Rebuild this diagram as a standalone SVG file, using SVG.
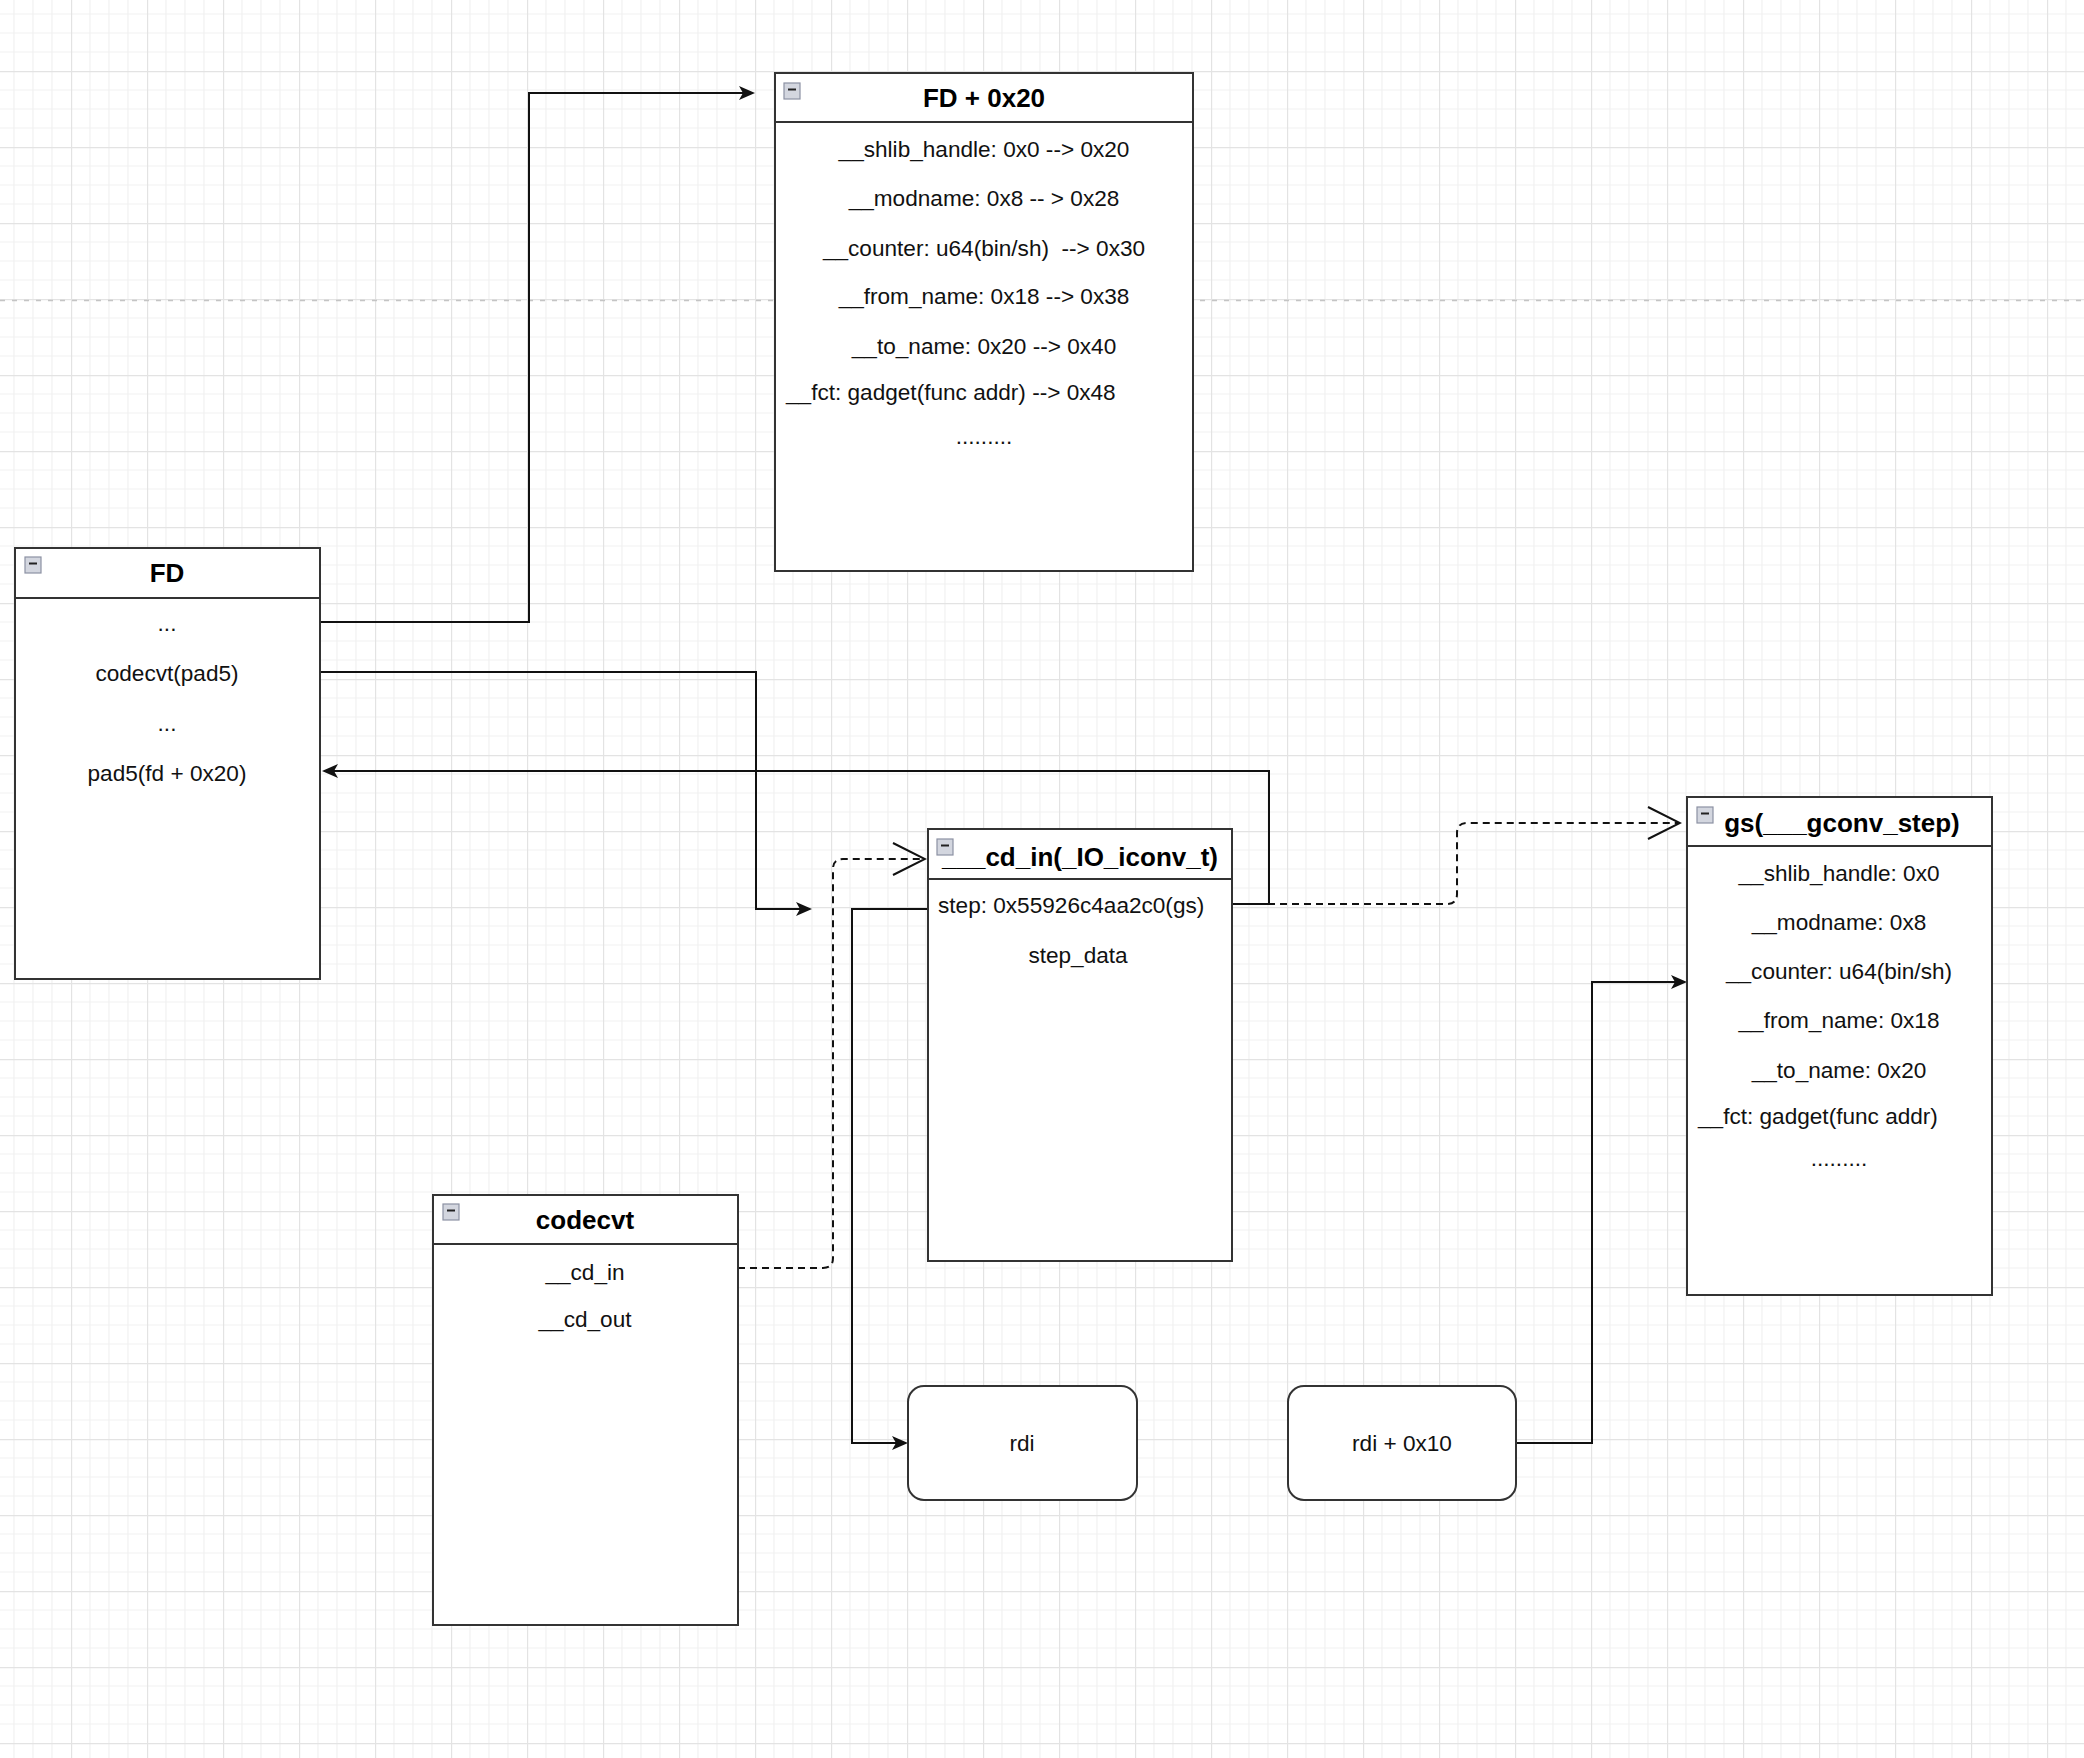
<svg xmlns="http://www.w3.org/2000/svg" xmlns:xlink="http://www.w3.org/1999/xlink" width="2084" height="1758" viewBox="0 0 2084 1758">
<style>
.box{fill:#ffffff;stroke:#333333;stroke-width:2}
.hdr{stroke:#333333;stroke-width:2}
.t{font-family:"Liberation Sans",Arial,Helvetica,sans-serif;font-size:22.6px;fill:#111111}
.c{text-anchor:middle}
.s{text-anchor:start}
.title{font-family:"Liberation Sans",Arial,Helvetica,sans-serif;font-size:26px;font-weight:bold;fill:#000000;text-anchor:middle}
.edge{fill:none;stroke:#111111;stroke-width:2}
.solid{marker-end:url(#arrowFill)}
.dash{stroke-dasharray:7 5;marker-end:url(#arrowOpen)}
</style>
<defs>
<pattern id="grid" x="71" y="71" width="76" height="76" patternUnits="userSpaceOnUse">
<path d="M19,0V76M38,0V76M57,0V76M0,19H76M0,38H76M0,57H76" fill="none" stroke="#f1f1f1" stroke-width="1.2"/>
<path d="M0.5,0V76M0,0.5H76" fill="none" stroke="#e3e3e3" stroke-width="1.4"/>
</pattern>
<marker id="arrowFill" markerUnits="userSpaceOnUse" viewBox="0 0 16 14" refX="12" refY="7" markerWidth="16" markerHeight="14" orient="auto">
<path d="M0,0 L16,7 L0,14 L4,7 Z" fill="#111111" stroke="none"/>
</marker>
<marker id="arrowOpen" markerUnits="userSpaceOnUse" viewBox="0 0 36 36" refX="34" refY="18" markerWidth="36" markerHeight="36" orient="auto">
<path d="M2,2 L34,18 L2,34" fill="none" stroke="#111111" stroke-width="2" stroke-dasharray="none"/>
</marker>
<g id="minus">
<rect x="0" y="0" width="16" height="16" fill="#d3d6df" stroke="#8c91a3" stroke-width="1.2"/>
<path d="M4,6.5H12" stroke="#222222" stroke-width="2"/>
</g>
</defs>

<rect x="0" y="0" width="2084" height="1758" fill="#ffffff"/>
<rect x="0" y="0" width="2084" height="1758" fill="url(#grid)"/>
<path d="M0,300.5H2084" stroke="#c4c4c4" stroke-width="1.5" stroke-dasharray="5 7" fill="none"/>

<g id="connectors">
<path class="edge solid" d="M319,622 H529 V93 H751"/>
<path class="edge solid" d="M319,672 H756 V909 H808"/>
<path class="edge solid" d="M1232,904 H1269 V771 H326"/>
<path class="edge dash" d="M1232,904 H1447 Q1457,904 1457,894 V833 Q1457,823 1467,823 H1680"/>
<path class="edge dash" d="M738,1268 H823 Q833,1268 833,1258 V869 Q833,859 843,859 H925"/>
<path class="edge solid" d="M928,909 H852 V1443 H904"/>
<path class="edge solid" d="M1516,1443 H1592 V982 H1683"/>
</g>

<g id="node-fd">
<rect class="box" x="15" y="548" width="305" height="431"/>
<path class="hdr" d="M15,598H320"/>
<use href="#minus" x="25" y="557"/>
<text class="title" x="167" y="582">FD</text>
<text class="t c" x="167" y="631">...</text>
<text class="t c" x="167" y="681">codecvt(pad5)</text>
<text class="t c" x="167" y="731">...</text>
<text class="t c" x="167" y="781">pad5(fd + 0x20)</text>
</g>

<g id="node-fd-0x20">
<rect class="box" x="775" y="73" width="418" height="498"/>
<path class="hdr" d="M775,122H1193"/>
<use href="#minus" x="784" y="83"/>
<text class="title" x="984" y="107">FD + 0x20</text>
<text class="t c" x="984" y="157">__shlib_handle: 0x0 --&gt; 0x20</text>
<text class="t c" x="984" y="206">__modname: 0x8 -- &gt; 0x28</text>
<text class="t c" x="984" y="256" xml:space="preserve">__counter: u64(bin/sh)  --&gt; 0x30</text>
<text class="t c" x="984" y="304">__from_name: 0x18 --&gt; 0x38</text>
<text class="t c" x="984" y="354">__to_name: 0x20 --&gt; 0x40</text>
<text class="t s" x="786" y="400">__fct: gadget(func addr) --&gt; 0x48</text>
<text class="t c" x="984" y="444">.........</text>
</g>

<g id="node-cd-in">
<rect class="box" x="928" y="829" width="304" height="432"/>
<path class="hdr" d="M928,879H1232"/>
<text class="title" x="1080" y="866">___cd_in(_IO_iconv_t)</text>
<use href="#minus" x="937" y="839"/>
<text class="t s" x="938" y="913">step: 0x55926c4aa2c0(gs)</text>
<text class="t c" x="1078" y="963">step_data</text>
</g>

<g id="node-gs">
<rect class="box" x="1687" y="797" width="305" height="498"/>
<path class="hdr" d="M1687,846H1992"/>
<use href="#minus" x="1697" y="807"/>
<text class="title" x="1842" y="832">gs(___gconv_step)</text>
<text class="t c" x="1839" y="881">__shlib_handle: 0x0</text>
<text class="t c" x="1839" y="930">__modname: 0x8</text>
<text class="t c" x="1839" y="979">__counter: u64(bin/sh)</text>
<text class="t c" x="1839" y="1028">__from_name: 0x18</text>
<text class="t c" x="1839" y="1078">__to_name: 0x20</text>
<text class="t s" x="1698" y="1124">__fct: gadget(func addr)</text>
<text class="t c" x="1839" y="1166">.........</text>
</g>

<g id="node-codecvt">
<rect class="box" x="433" y="1195" width="305" height="430"/>
<path class="hdr" d="M433,1244H738"/>
<use href="#minus" x="443" y="1204"/>
<text class="title" x="585" y="1229">codecvt</text>
<text class="t c" x="585" y="1280">__cd_in</text>
<text class="t c" x="585" y="1327">__cd_out</text>
</g>

<g id="node-rdi">
<rect class="box" x="908" y="1386" width="229" height="114" rx="16" ry="16"/>
<text class="t c" x="1022" y="1451">rdi</text>
</g>

<g id="node-rdi-0x10">
<rect class="box" x="1288" y="1386" width="228" height="114" rx="16" ry="16"/>
<text class="t c" x="1402" y="1451">rdi + 0x10</text>
</g>
</svg>
